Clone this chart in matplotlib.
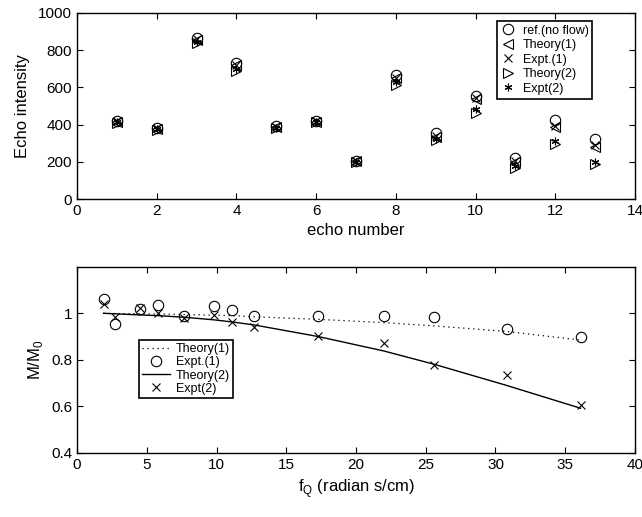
import matplotlib
matplotlib.use('Agg')
import matplotlib.pyplot as plt

plt.rcParams['font.family'] = ['Liberation Sans', 'DejaVu Sans']

# top panel: echo intensities
echo = [1, 2, 3, 4, 5, 6, 7, 8, 9, 10, 11, 12, 13]
ref_noflow = [420, 382, 865, 731, 390, 420, 205, 667, 355, 554, 222, 425, 322]
theory1 = [415, 378, 855, 718, 386, 416, 202, 648, 335, 537, 199, 387, 282]
expt1 = [417, 380, 858, 722, 388, 418, 203, 652, 340, 542, 203, 392, 288]
theory2 = [410, 373, 840, 690, 382, 412, 198, 615, 318, 462, 167, 296, 188]
expt2 = [412, 375, 845, 698, 384, 414, 200, 628, 325, 484, 178, 312, 199]

# bottom panel: M/M0 vs f_Q
fq = [1.9, 2.7, 4.5, 5.8, 7.7, 9.8, 11.1, 12.7, 17.3, 22.0, 25.6, 30.8, 36.1]
mm_theory1 = [1.0, 0.999, 0.998, 0.997, 0.995, 0.992, 0.990, 0.985, 0.974, 0.960, 0.946, 0.922, 0.885]
mm_expt1 = [1.060, 0.956, 1.017, 1.034, 0.990, 1.030, 1.016, 0.988, 0.988, 0.988, 0.986, 0.934, 0.900]
mm_theory2 = [1.0, 0.998, 0.993, 0.990, 0.983, 0.972, 0.963, 0.950, 0.900, 0.838, 0.781, 0.690, 0.592]
mm_expt2 = [1.042, 0.985, 1.024, 1.003, 0.981, 0.992, 0.964, 0.940, 0.901, 0.873, 0.779, 0.734, 0.605]

fig = plt.figure(figsize=(6.42, 5.17), dpi=100)
ax1 = fig.add_axes([0.12, 0.615, 0.869, 0.36])
ax2 = fig.add_axes([0.12, 0.124, 0.869, 0.36])

mk = dict(color='k', markerfacecolor='none', linestyle='none', markeredgewidth=0.8)
ax1.plot(echo, ref_noflow, marker='o', markersize=7.5, label='ref.(no flow)', **mk)
ax1.plot(echo, theory1, marker='<', markersize=7.5, label='Theory(1)', **mk)
ax1.plot(echo, expt1, marker='x', markersize=5.5, label='Expt.(1)', **mk)
ax1.plot(echo, theory2, marker='>', markersize=7.5, label='Theory(2)', **mk)
ax1.plot(echo, expt2, marker=(6, 2, 0), markersize=5.5, label='Expt(2)', **mk)
ax1.set_xlim(0, 14)
ax1.set_ylim(0, 1000)
ax1.set_xticks(range(0, 15, 2))
ax1.set_yticks(range(0, 1001, 200))
ax1.set_xlabel('echo number', fontsize=12)
ax1.set_ylabel('Echo intensity', fontsize=12, labelpad=6)
leg1 = ax1.legend(loc='upper right', bbox_to_anchor=(0.935, 0.99), fontsize=9,
                  fancybox=False, edgecolor='k', framealpha=1, handlelength=1.2,
                  labelspacing=0.2, borderpad=0.3, handletextpad=0.6)
leg1.get_frame().set_linewidth(1.2)

ax2.plot(fq, mm_theory1, color='k', linestyle=(0, (1, 3)), linewidth=0.9, label='Theory(1)')
ax2.plot(fq, mm_expt1, marker='o', markersize=7.5, label='Expt.(1)', **mk)
ax2.plot(fq, mm_theory2, color='k', linestyle='-', linewidth=1.0, label='Theory(2)')
ax2.plot(fq, mm_expt2, marker='x', markersize=5.5, label='Expt(2)', **mk)
ax2.set_xlim(0, 40)
ax2.set_ylim(0.4, 1.2)
ax2.set_xticks(range(0, 41, 5))
ax2.set_yticks([0.4, 0.6, 0.8, 1.0])
ax2.set_yticklabels(['0.4', '0.6', '0.8', '1'])
ax2.set_xlabel('f$_\\mathregular{Q}$ (radian s/cm)', fontsize=12)
ax2.set_ylabel('M/M$_\\mathregular{0}$', fontsize=12)
leg2 = ax2.legend(loc='lower left', bbox_to_anchor=(0.1, 0.262), fontsize=9,
                  fancybox=False, edgecolor='k', framealpha=1, handlelength=2.2,
                  labelspacing=0.1, borderpad=0.25, handletextpad=0.5)
leg2.get_frame().set_linewidth(1.2)

for ax in (ax1, ax2):
    ax.tick_params(direction='in', top=True, right=True, labelsize=11, length=4, width=0.8)
    for s in ax.spines.values():
        s.set_linewidth(1.0)

fig.savefig('out.png', dpi=100)
